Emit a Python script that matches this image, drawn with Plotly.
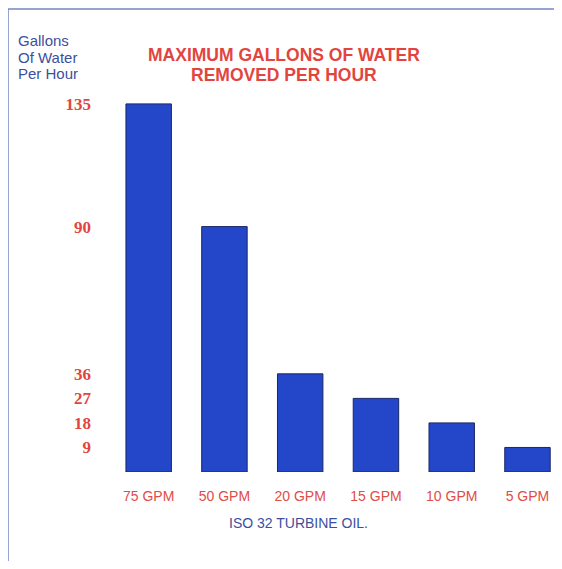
import plotly.graph_objects as go

categories = ["75 GPM", "50 GPM", "20 GPM", "15 GPM", "10 GPM", "5 GPM"]
gallons_per_hour = [135, 90, 36, 27, 18, 9]
y_ticks = [135, 90, 36, 27, 18, 9]

OFF = 8  # browser body margin
W, H = 546, 553
L, R, T, B = 99, 0, 55, 89
pw, ph = W - L - R, H - T - B

def px(x):  # reference page x -> paper
    return (x - OFF - L) / pw

def py(y):  # reference page y -> paper
    return (H - B - (y - OFF)) / ph

red = "#e2453f"
blue_txt = "#3c4f9e"
sans = "Arial, Liberation Sans"

fig = go.Figure(go.Bar(
    x=categories, y=gallons_per_hour,
    marker=dict(color="#2447c9", line=dict(color="#1b2766", width=1)),
    width=0.6,
))

ann = []
for txt, yy in [("Gallons", 40), ("Of Water", 57), ("Per Hour", 73)]:
    ann.append(dict(text=txt, xref="paper", yref="paper", x=px(16), y=py(yy),
                    xanchor="left", yanchor="middle", showarrow=False,
                    font=dict(family=sans, size=15, color=blue_txt)))
for txt, yy in [("MAXIMUM GALLONS OF WATER", 55), ("REMOVED PER HOUR", 75)]:
    ann.append(dict(text="<b>" + txt + "</b>", xref="paper", yref="paper", x=px(284), y=py(yy),
                    xanchor="center", yanchor="middle", showarrow=False,
                    font=dict(family=sans, size=17.5, color=red)))
ann.append(dict(text="ISO 32 TURBINE OIL.", xref="paper", yref="paper",
                x=px(298), y=py(523), xanchor="center", yanchor="middle",
                showarrow=False, font=dict(family=sans, size=14, color=blue_txt)))

fig.update_layout(
    width=W, height=H,
    margin=dict(l=L, r=R, t=T, b=B),
    paper_bgcolor="white", plot_bgcolor="white",
    showlegend=False,
    xaxis=dict(range=[-0.55, 5.35], showgrid=False, showline=False, zeroline=False, ticks="",
               tickfont=dict(family=sans, size=14, color="#e04c46"),
               ticklabelstandoff=14),
    yaxis=dict(range=[0, 150], showgrid=False, showline=False, zeroline=False,
               tickvals=y_ticks, ticktext=["<b>%d</b>" % v for v in y_ticks], ticks="",
               tickfont=dict(family="Liberation Serif, Times New Roman", size=17, color=red),
               ticklabelstandoff=15),
    shapes=[
        dict(type="line", xref="paper", yref="paper", x0=px(8), x1=px(570), y0=py(9), y1=py(9),
             line=dict(color="#7384c4", width=1.5)),
        dict(type="line", xref="paper", yref="paper", x0=px(8), x1=px(8), y0=py(9), y1=py(580),
             line=dict(color="#7384c4", width=1.5)),
    ],
    annotations=ann,
)

fig.write_html("out.html")
